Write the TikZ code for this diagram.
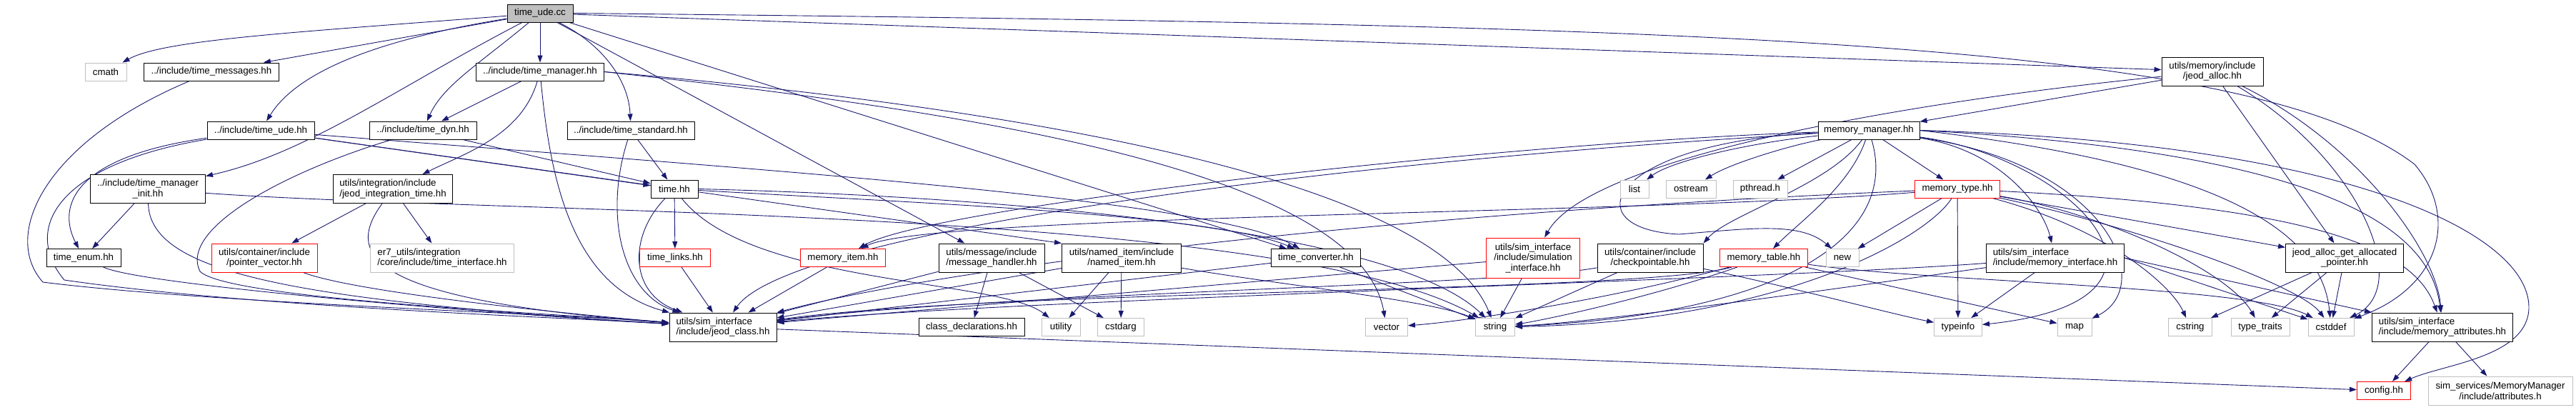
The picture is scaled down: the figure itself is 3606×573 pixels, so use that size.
\documentclass[tikz,border=0pt]{standalone}
\usepackage{fontspec}
\setmainfont{Liberation Sans}
\usetikzlibrary{arrows.meta}

\definecolor{edgeblue}{HTML}{191970}
\definecolor{sysgray}{HTML}{BFBFBF}

\pgfdeclarelayer{edges}
\pgfsetlayers{edges,main}

\tikzset{
    hdr/.style={draw=black, line width=1pt, fill=white, inner sep=0pt,
        font=\fontsize{13.3}{14.5}\selectfont, minimum height=25pt, align=center},
    syshdr/.style={hdr, draw=sysgray},
    trunc/.style={hdr, draw=red},
    roothdr/.style={hdr, fill=sysgray},
    two/.style={minimum height=40pt},
    three/.style={minimum height=56pt},
    dep/.style={draw=edgeblue, line width=0.9pt, -{Triangle[length=10pt,width=7pt]}}
}

\begin{document}
\begin{tikzpicture}[x=1pt, y=-1pt]
    \useasboundingbox (0,0) rectangle (3606,573);

    % rank 0 and 1
    \node[roothdr, minimum width=92pt] (root) at (756,18.5) {time\_ude.cc};
    \node[syshdr, minimum width=58pt] (cmath) at (148,100.5) {cmath};
    \node[hdr, minimum width=189pt] (tmsg) at (296,100.5) {../include/time\_messages.hh};
    \node[hdr, minimum width=179pt] (tmgr) at (756,100.5) {../include/time\_manager.hh};
    \node[hdr, two, minimum width=142pt] (jalloc) at (3097,100) {utils/memory/include\\/jeod\_alloc.hh};

    % rank 2
    \node[hdr, minimum width=150pt] (tudeh) at (365,182.5) {../include/time\_ude.hh};
    \node[hdr, minimum width=150pt] (tdyn) at (592,182.5) {../include/time\_dyn.hh};
    \node[hdr, minimum width=178pt] (tstd) at (883,182.5) {../include/time\_standard.hh};
    \node[hdr, minimum width=142pt] (mmgr) at (2616,182.5) {memory\_manager.hh};

    % rank 3
    \node[hdr, two, minimum width=161pt] (tinit) at (207,264.5) {../include/time\_manager\\\_init.hh};
    \node[hdr, two, minimum width=167pt, align=left] (jint) at (550,264.5) {utils/integration/include\\/jeod\_integration\_time.hh};
    \node[hdr, minimum width=66pt] (timeh) at (944,264.5) {time.hh};
    \node[syshdr, minimum width=40pt] (list) at (2288,264.5) {list};
    \node[syshdr, minimum width=70pt] (ostream) at (2367,264.5) {ostream};
    \node[syshdr, minimum width=76pt] (pthread) at (2464,264.5) {pthread.h};
    \node[trunc, minimum width=119pt] (mtype) at (2740,264.5) {memory\_type.hh};

    % rank 4
    \node[hdr, minimum width=104pt] (tenum) at (117,361) {time\_enum.hh};
    \node[trunc, two, minimum width=148pt] (pvec) at (370,361) {utils/container/include\\/pointer\_vector.hh};
    \node[syshdr, two, minimum width=201pt, align=left] (tiface) at (619,361) {er7\_utils/integration\\/core/include/time\_interface.hh};
    \node[trunc, minimum width=99pt] (tlinks) at (945,361) {time\_links.hh};
    \node[trunc, minimum width=119pt] (mitem) at (1180,361) {memory\_item.hh};
    \node[hdr, two, minimum width=148pt] (msgh) at (1388,361) {utils/message/include\\/message\_handler.hh};
    \node[hdr, two, minimum width=167pt] (nitem) at (1570,361) {utils/named\_item/include\\/named\_item.hh};
    \node[hdr, minimum width=125pt] (tconv) at (1842,361) {time\_converter.hh};
    \node[trunc, three, minimum width=131pt] (simif) at (2146,361) {utils/sim\_interface\\/include/simulation\\\_interface.hh};
    \node[hdr, two, minimum width=148pt] (ckpt) at (2310,361) {utils/container/include\\/checkpointable.hh};
    \node[trunc, minimum width=123pt] (mtable) at (2469,361) {memory\_table.hh};
    \node[syshdr, minimum width=46pt] (new) at (2579,361) {new};
    \node[hdr, two, minimum width=193pt, align=left] (mif) at (2877,361) {utils/sim\_interface\\/include/memory\_interface.hh};
    \node[hdr, two, minimum width=165pt] (jagap) at (3282,361) {jeod\_alloc\_get\_allocated\\\_pointer.hh};

    % rank 5
    \node[hdr, two, minimum width=150pt, align=left] (jclass) at (1012,458) {utils/sim\_interface\\/include/jeod\_class.hh};
    \node[hdr, minimum width=148pt] (cdecl) at (1360,458) {class\_declarations.hh};
    \node[syshdr, minimum width=54pt] (utility) at (1485,458) {utility};
    \node[syshdr, minimum width=65pt] (cstdarg) at (1569,458) {cstdarg};
    \node[syshdr, minimum width=59pt] (vector) at (1941,458) {vector};
    \node[syshdr, minimum width=55pt] (string) at (2093,458) {string};
    \node[syshdr, minimum width=67pt] (typeinfo) at (2741,458) {typeinfo};
    \node[syshdr, minimum width=48pt] (map) at (2904,458) {map};
    \node[syshdr, minimum width=61pt] (cstring) at (3066,458) {cstring};
    \node[syshdr, minimum width=82pt] (ttraits) at (3164,458) {type\_traits};
    \node[syshdr, minimum width=64pt] (cstddef) at (3263,458) {cstddef};
    \node[hdr, two, minimum width=197pt, align=left] (mattr) at (3419,458) {utils/sim\_interface\\/include/memory\_attributes.hh};

    % rank 6
    \node[trunc, minimum width=75pt] (config) at (3337,547) {config.hh};
    \node[syshdr, two, minimum width=202pt] (attrh) at (3500,547) {sim\_services/MemoryManager\\/include/attributes.h};

    \begin{pgfonlayer}{edges}
    % time_ude.cc
    \draw[dep] (root) .. controls (420,45) and (230,55) .. (cmath);
    \draw[dep] (root) -- (tmsg);
    \draw[dep] (root) .. controls (500,60) and (410,110) .. (tudeh);
    \draw[dep] (root) .. controls (560,120) and (430,215) .. (tinit);
    \draw[dep] (root) .. controls (670,90) and (620,120) .. (tdyn);
    \draw[dep] (root) -- (tmgr);
    \draw[dep] (root) .. controls (840,60) and (880,110) .. (tstd);
    \draw[dep] (root) -- (msgh);
    \draw[dep] (root) -- (tconv);
    \draw[dep] (root) -- (jalloc);
    \draw[dep] (root.east) .. controls (2400,35) and (3150,55) .. (3380,230)
        .. controls (3440,300) and (3420,400) .. (cstddef);

    % time_manager.hh
    \draw[dep] (tmgr) -- (tdyn);
    \draw[dep] (tmgr) .. controls (730,190) and (650,215) .. (jint);
    \draw[dep] (tmgr) .. controls (770,250) and (800,400) .. (jclass);
    \draw[dep] (tmgr.east) .. controls (1300,150) and (1900,230) .. (vector);
    \draw[dep] (tmgr.east) .. controls (1300,140) and (2000,230) .. (string);

    % time_messages.hh, time_ude.hh, time_dyn.hh, time_standard.hh
    \draw[dep] (tmsg) .. controls (60,200) and (2,330) .. (60,395)
        .. controls (300,425) and (800,440) .. (jclass);
    \draw[dep] (tudeh) .. controls (100,220) and (80,290) .. (tenum);
    \draw[dep] (tudeh) .. controls (80,230) and (30,320) .. (90,392)
        .. controls (350,430) and (800,445) .. (jclass);
    \draw[dep] (tudeh) -- (timeh);
    \draw[dep] (tudeh) -- (nitem.north west);
    \draw[dep] (tudeh) .. controls (1100,240) and (1700,280) .. (tconv);
    \draw[dep] (tdyn) -- (timeh);
    \draw[dep] (tdyn) .. controls (400,240) and (250,320) .. (280,380)
        .. controls (320,420) and (800,440) .. (jclass);
    \draw[dep] (tstd) -- (timeh);
    \draw[dep] (tstd) .. controls (845,300) and (870,410) .. (jclass);

    % time_manager_init.hh, jeod_integration_time.hh
    \draw[dep] (tinit) -- (tenum);
    \draw[dep] (tinit) .. controls (210,380) and (400,420) .. (jclass);
    \draw[dep] (tinit) .. controls (700,300) and (1800,290) .. (string);
    \draw[dep] (jint) -- (pvec);
    \draw[dep] (jint) -- (tiface);
    \draw[dep] (jint) .. controls (480,360) and (520,420) .. (jclass);
    \draw[dep] (tenum) .. controls (200,400) and (700,440) .. (jclass);
    \draw[dep] (pvec) .. controls (500,410) and (800,440) .. (jclass);

    % time.hh
    \draw[dep] (timeh) -- (tlinks);
    \draw[dep] (timeh) .. controls (880,330) and (880,410) .. (jclass);
    \draw[dep] (timeh) .. controls (1050,400) and (1400,390) .. (utility);
    \draw[dep] (timeh) .. controls (1300,285) and (1700,300) .. (tconv);
    \draw[dep] (timeh.east) .. controls (1400,275) and (1950,320) .. (string);

    % middle row
    \draw[dep] (tlinks) -- (jclass);
    \draw[dep] (mitem) -- (jclass);
    \draw[dep] (msgh) -- (jclass);
    \draw[dep] (msgh) -- (cdecl);
    \draw[dep] (msgh) -- (cstdarg);
    \draw[dep] (nitem) -- (jclass);
    \draw[dep] (nitem) -- (utility);
    \draw[dep] (nitem) -- (cstdarg);
    \draw[dep] (nitem) .. controls (1800,400) and (2000,420) .. (string);
    \draw[dep] (tconv) -- (jclass);
    \draw[dep] (tconv) -- (string);
    \draw[dep] (simif) -- (jclass);
    \draw[dep] (simif) -- (string);
    \draw[dep] (ckpt) .. controls (2100,400) and (1400,410) .. (jclass);
    \draw[dep] (ckpt) -- (string);
    \draw[dep] (ckpt) .. controls (2500,400) and (2650,440) .. (typeinfo);
    \draw[dep] (mtable) .. controls (2300,410) and (1400,405) .. (jclass);
    \draw[dep] (mtable) .. controls (2300,420) and (2150,450) .. (string);
    \draw[dep] (mtable) .. controls (2250,420) and (2050,450) .. (vector);
    \draw[dep] (mtable) -- (map);
    \draw[dep] (mtable) .. controls (2700,395) and (3150,400) .. (cstddef);

    % memory_manager.hh
    \draw[dep] (mmgr) .. controls (2450,200) and (2340,225) .. (list);
    \draw[dep] (mmgr) .. controls (2500,205) and (2420,230) .. (ostream);
    \draw[dep] (mmgr) -- (pthread);
    \draw[dep] (mmgr) -- (mtype);
    \draw[dep] (mmgr) .. controls (2100,200) and (1300,290) .. (mitem);
    \draw[dep] (mmgr) .. controls (2560,260) and (2420,300) .. (ckpt.north east);
    \draw[dep] (mmgr) .. controls (2590,260) and (2520,310) .. (mtable);
    \draw[dep] (mmgr) .. controls (2250,200) and (2200,320) .. (2350,328)
        .. controls (2450,320) and (2520,310) .. (new);
    \draw[dep] (mmgr) .. controls (2800,210) and (2860,290) .. (mif);
    \draw[dep] (mmgr) .. controls (2660,330) and (2500,440) .. (string);
    \draw[dep] (mmgr) .. controls (2900,220) and (3100,420) .. (typeinfo);
    \draw[dep] (mmgr) .. controls (2950,230) and (3020,400) .. (map);
    \draw[dep] (mmgr.east) .. controls (3100,230) and (3250,320) .. (cstddef);
    \draw[dep] (mmgr.east) .. controls (3200,210) and (3400,300) .. (mattr);
    \draw[dep] (mmgr.east) .. controls (3300,200) and (3540,330) .. (3540,430)
        .. controls (3540,500) and (3420,510) .. (config);
    \draw[dep] (mmgr) .. controls (1800,230) and (1100,330) .. (jclass);

    % memory_type.hh
    \draw[dep] (mtype) .. controls (2300,300) and (1300,300) .. (mitem);
    \draw[dep] (mtype) -- (new);
    \draw[dep] (mtype) -- (typeinfo);
    \draw[dep] (mtype) .. controls (2700,330) and (2500,450) .. (string);
    \draw[dep] (mtype) .. controls (1900,300) and (1300,380) .. (jclass);
    \draw[dep] (mtype) .. controls (2950,320) and (3040,400) .. (cstring);
    \draw[dep] (mtype) .. controls (2950,300) and (3120,380) .. (ttraits);
    \draw[dep] (mtype) .. controls (3000,320) and (3220,400) .. (cstddef);
    \draw[dep] (mtype) -- (jagap);
    \draw[dep] (mtype) .. controls (3250,290) and (3380,350) .. (mattr);

    % memory_interface.hh, jeod_alloc_get_allocated_pointer.hh
    \draw[dep] (mif) -- (typeinfo);
    \draw[dep] (mif) .. controls (2500,390) and (1400,420) .. (jclass);
    \draw[dep] (mif) .. controls (2600,400) and (2250,450) .. (string);
    \draw[dep] (mif.east) -- (cstddef);
    \draw[dep] (mif.east) -- (mattr.north west);
    \draw[dep] (jagap) -- (cstring);
    \draw[dep] (jagap) -- (ttraits);
    \draw[dep] (jagap) -- (cstddef);

    % jeod_alloc.hh
    \draw[dep] (jalloc) -- (mmgr);
    \draw[dep] (jalloc) -- (jagap);
    \draw[dep] (jalloc) .. controls (3300,200) and (3410,350) .. (mattr);
    \draw[dep] (jalloc) .. controls (3300,220) and (3380,400) .. (cstddef);
    \draw[dep] (jalloc) .. controls (2600,150) and (2220,230) .. (simif);

    % bottom
    \draw[dep] (mattr) -- (config);
    \draw[dep] (mattr) -- (attrh);
    \draw[dep] (jclass) -- (config);
    \end{pgfonlayer}
\end{tikzpicture}
\end{document}
